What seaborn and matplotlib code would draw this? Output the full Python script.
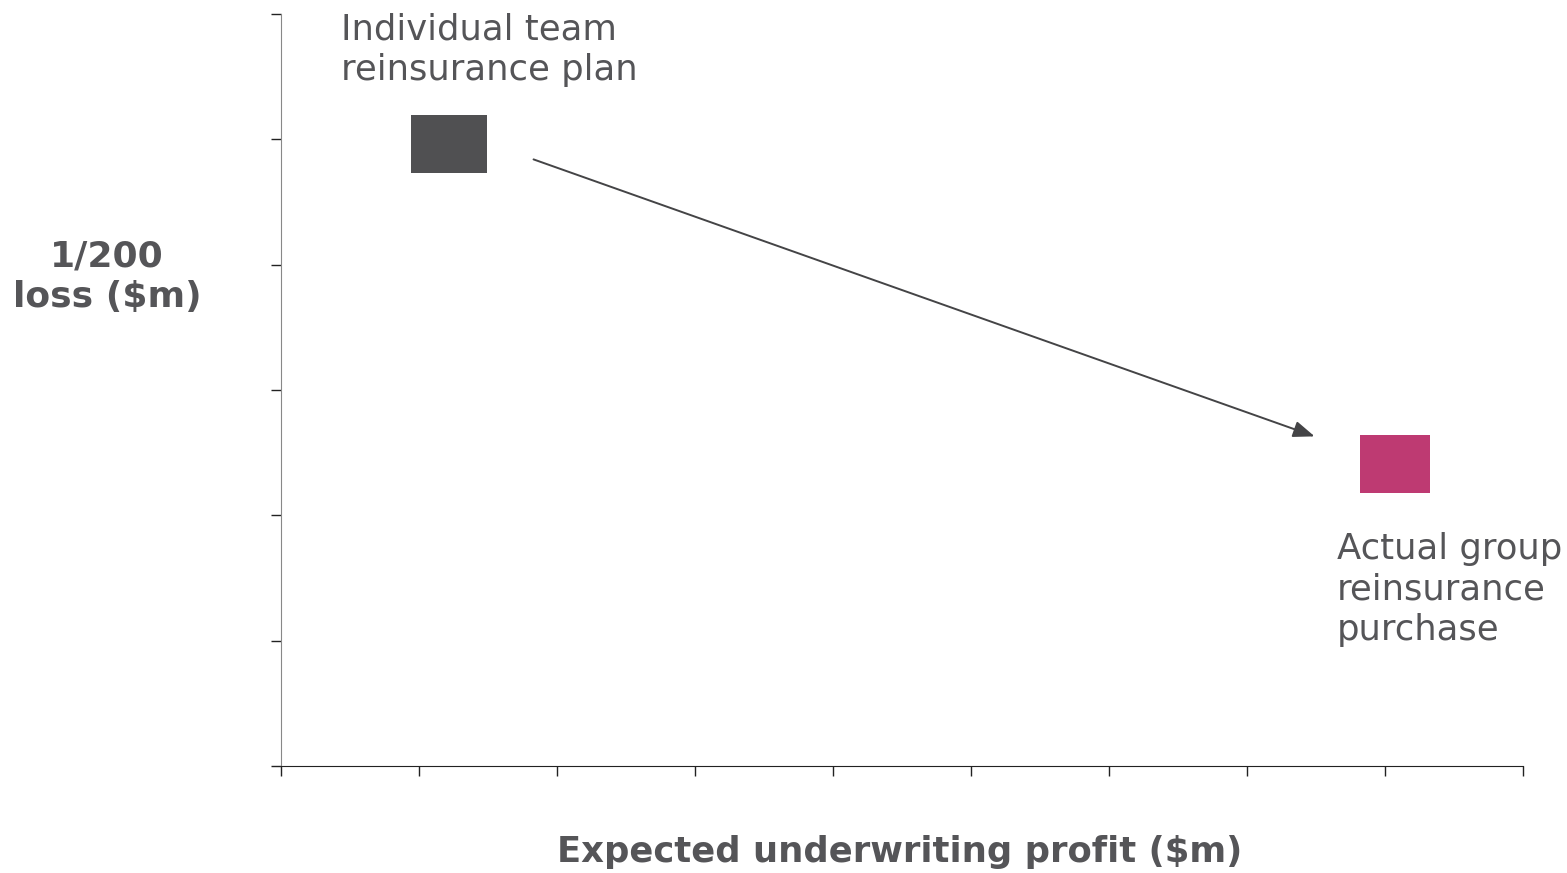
import matplotlib
matplotlib.use("Agg")
import matplotlib.pyplot as plt
import seaborn as sns
import pandas as pd

# chart values (arbitrary units, axis has no numbers)
labels = ["Individual team\nreinsurance plan", "Actual group\nreinsurance\npurchase"]
profit = [1.22, 8.07]
loss_200 = [4.96, 2.41]
colors = ["#505052", "#BE3A72"]
# marker aspect (height / width) and size
aspects = [0.766, 0.826]
msizes = [3070, 2470]

arrow_start = (1.83, 4.84)
arrow_end = (7.49, 2.63)

x_ticks = list(range(0, 10))
y_ticks = list(range(0, 7))

sns.set_style("ticks")
plt.rcParams["font.family"] = ["DejaVu Sans"]

fig = plt.figure(figsize=(15.67, 8.73), dpi=100)
ax = fig.add_axes([281 / 1567, 107 / 873, 1242 / 1567, 752 / 873])

df = pd.DataFrame({"profit": profit, "loss": loss_200, "label": labels})
for i in range(len(df)):
    a = aspects[i]
    verts = [(-1, -a), (1, -a), (1, a), (-1, a), (-1, -a)]
    sns.scatterplot(data=df.iloc[[i]], x="profit", y="loss", marker=verts,
                    s=msizes[i], color=colors[i], linewidth=0, ax=ax, legend=False)

ax.annotate("", xy=arrow_end, xytext=arrow_start,
            arrowprops=dict(arrowstyle="-|>,head_length=1.3,head_width=0.5",
                            color="#444446", lw=1.4, shrinkA=0, shrinkB=0))

txt = "#555558"
ax.text(0.435, 6.01, labels[0], fontsize=25.5, color=txt, va="top", ha="left",
        linespacing=1.25)
ax.text(7.65, 1.87, labels[1], fontsize=25.5, color=txt, va="top", ha="left",
        linespacing=1.25)

ax.set_xlim(0, 9)
ax.set_ylim(0, 6)
ax.set_xticks(x_ticks)
ax.set_yticks(y_ticks)
ax.set_xticklabels([])
ax.set_yticklabels([])
ax.tick_params(axis="both", direction="out", length=7.5, width=1, color="#222222")
sns.despine(ax=ax)
ax.spines["left"].set_color("#888888")
ax.spines["bottom"].set_color("#222222")
ax.set_xlabel("")
ax.set_ylabel("")

fig.text(107 / 1567, 1 - 277 / 873, "1/200\nloss ($m)", fontsize=26, fontweight="bold",
         color=txt, ha="center", va="center", linespacing=1.25)
fig.text(900 / 1567, 1 - 852 / 873, "Expected underwriting profit ($m)", fontsize=25.5,
         fontweight="bold", color=txt, ha="center", va="center")

fig.savefig("out.png", dpi=100)
